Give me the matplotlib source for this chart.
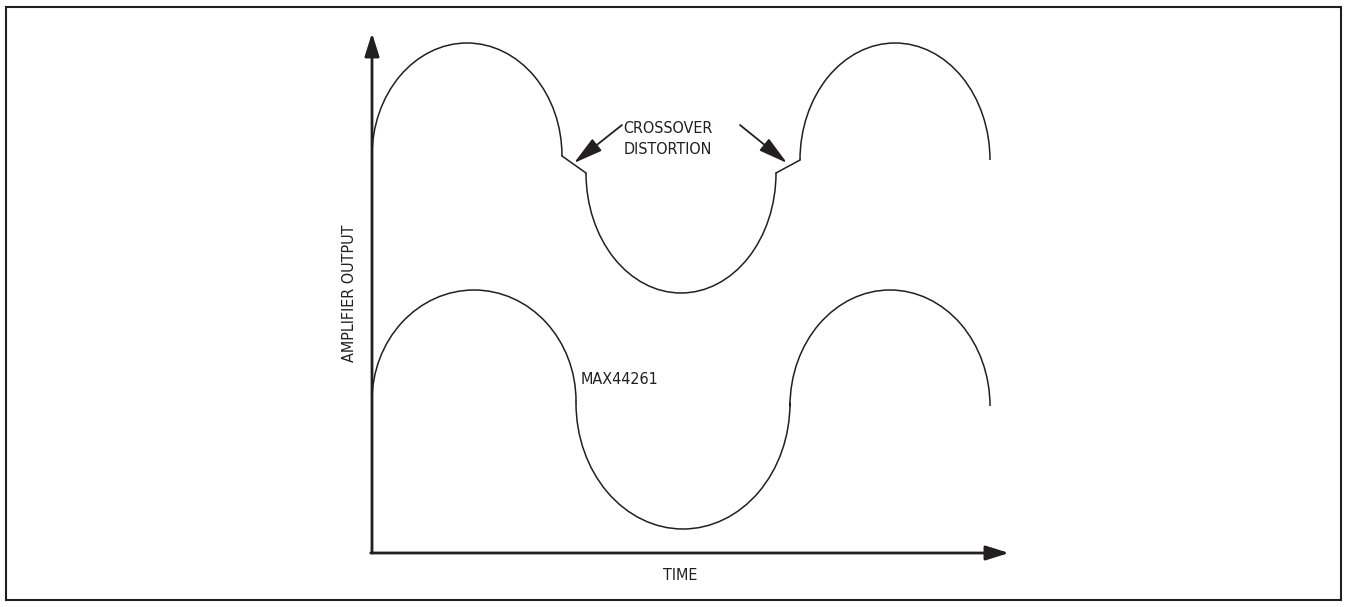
import numpy as np
import matplotlib
matplotlib.use('Agg')
import matplotlib.pyplot as plt
from matplotlib.patches import Arc, Rectangle

plt.rcParams['font.family'] = ['DejaVu Sans']
plt.rcParams['font.stretch'] = 'condensed'

# arcs of each trace: (t_start, t_end, base level, peak/trough level)
top_arcs = [(0, 190, 397, 510), (214, 404, 380, 260), (428, 618, 393, 510)]
# crossover kinks of the upper trace: (t0, v0, t1, v1)
top_kinks = [(190, 397, 214, 380), (404, 380, 428, 393)]
bottom_arcs = [(0, 204, 152, 263), (204, 418, 150, 24), (418, 618, 147, 263)]

label_top = 'CROSSOVER\nDISTORTION'
label_bottom = 'MAX44261'
xlabel = 'TIME'
ylabel = 'AMPLIFIER OUTPUT'

W, H = 1348, 607
fig = plt.figure(figsize=(W / 100, H / 100), dpi=100)
fig.patches.append(Rectangle((6 / W, 7 / H), 1335 / W, 593 / H, transform=fig.transFigure,
                             fill=False, lw=1.5, ec='#231f20'))

# axes corner sits at the plot origin, data units are pixels of the drawing
ax = fig.add_axes([372 / W, 54 / H, 637 / W, 520 / H])
ax.set_xlim(0, 637)
ax.set_ylim(0, 520)
ax.axis('off')

lc = '#231f20'
fs = 11.5


def draw_arcs(arcs):
    for t0, t1, base, pk in arcs:
        h = 2 * abs(pk - base)
        th1, th2 = (0, 180) if pk > base else (180, 360)
        ax.add_patch(Arc(((t0 + t1) / 2, base), t1 - t0, h, theta1=th1, theta2=th2,
                         lw=1.1, color=lc))


draw_arcs(top_arcs)
draw_arcs(bottom_arcs)
for t0, v0, t1, v1 in top_kinks:
    ax.plot([t0, t1], [v0, v1], color=lc, lw=1.1)
# join the bottom arcs where their bases differ slightly
for a, b in zip(bottom_arcs[:-1], bottom_arcs[1:]):
    ax.plot([a[1], b[0]], [a[2], b[2]], color=lc, lw=1.1)

# axes with arrowheads
ax.annotate('', xy=(0, 1.0), xytext=(0, 0), xycoords='axes fraction',
            arrowprops=dict(arrowstyle='-|>,head_length=0.7,head_width=0.22',
                            mutation_scale=20, lw=2.0, color=lc, shrinkA=0, shrinkB=0))
ax.annotate('', xy=(1.0, 0), xytext=(-0.002, 0), xycoords='axes fraction',
            arrowprops=dict(arrowstyle='-|>,head_length=0.7,head_width=0.22',
                            mutation_scale=20, lw=2.0, color=lc, shrinkA=0, shrinkB=0))

# labels
ax.text(296, 414, label_top, ha='center', va='center', fontsize=fs,
        linespacing=1.45, color=lc)
ax.text(248, 174, label_bottom, ha='center', va='center', fontsize=fs, color=lc)
ax.text(308, -22, xlabel, ha='center', va='center', fontsize=fs, color=lc, clip_on=False)
ax.text(-22, 260, ylabel, ha='center', va='center', rotation=90, fontsize=fs,
        color=lc, clip_on=False)

# pointers to the crossover kinks
ap = dict(arrowstyle='-|>,head_length=1.0,head_width=0.26', mutation_scale=18,
          lw=1.3, color=lc, shrinkA=0, shrinkB=0)
ax.annotate('', xy=(202, 390), xytext=(250, 428), arrowprops=ap)
ax.annotate('', xy=(415, 390), xytext=(368, 428), arrowprops=ap)

fig.savefig('out.png', dpi=100)
